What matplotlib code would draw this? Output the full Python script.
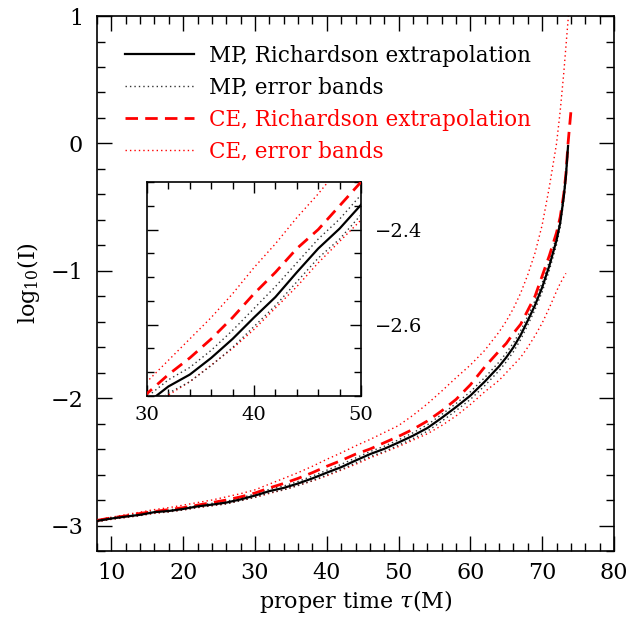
import matplotlib
matplotlib.use("Agg")
import matplotlib.pyplot as plt
from matplotlib.ticker import MultipleLocator

plt.rcParams['font.family'] = ['DejaVu Serif']
plt.rcParams['mathtext.fontset'] = 'dejavuserif'

# proper time grid shared by the MP curves
tau = [8, 10, 12, 14, 16, 18, 20, 22, 24, 26, 28, 30, 32, 34, 36, 38, 40, 42, 44,
       46, 48, 50, 52, 54, 56, 58, 60, 62, 64, 65, 66, 67, 68, 69, 70, 71, 72,
       72.5, 73, 73.3, 73.6]

mp_rich = [-2.964, -2.945, -2.930, -2.916, -2.895, -2.886, -2.870, -2.850, -2.836,
           -2.820, -2.795, -2.765, -2.730, -2.705, -2.670, -2.630, -2.585, -2.542,
           -2.490, -2.440, -2.398, -2.348, -2.295, -2.235, -2.155, -2.070, -1.980,
           -1.870, -1.750, -1.680, -1.600, -1.505, -1.390, -1.270, -1.130, -0.960,
           -0.760, -0.627, -0.420, -0.260, -0.020]
mp_upper = [-2.958, -2.940, -2.924, -2.908, -2.889, -2.878, -2.862, -2.842, -2.826,
            -2.810, -2.784, -2.752, -2.716, -2.690, -2.654, -2.612, -2.566, -2.520,
            -2.470, -2.420, -2.378, -2.327, -2.272, -2.210, -2.128, -2.042, -1.950,
            -1.838, -1.716, -1.645, -1.565, -1.470, -1.355, -1.235, -1.095, -0.925,
            -0.725, -0.595, -0.390, -0.230, 0.010]
mp_lower = [-2.970, -2.950, -2.936, -2.922, -2.901, -2.892, -2.878, -2.858, -2.844,
            -2.830, -2.806, -2.778, -2.744, -2.720, -2.686, -2.648, -2.604, -2.560,
            -2.510, -2.460, -2.420, -2.369, -2.318, -2.260, -2.182, -2.098, -2.010,
            -1.902, -1.784, -1.715, -1.635, -1.540, -1.425, -1.305, -1.165, -0.995,
            -0.795, -0.660, -0.450, -0.290, -0.050]

tau_ce = tau + [74.0]
ce_rich = [-2.960, -2.940, -2.925, -2.905, -2.890, -2.875, -2.860, -2.840, -2.820,
           -2.800, -2.775, -2.745, -2.705, -2.670, -2.630, -2.585, -2.535, -2.490,
           -2.440, -2.400, -2.350, -2.300, -2.245, -2.180, -2.100, -2.010, -1.895,
           -1.755, -1.630, -1.570, -1.490, -1.420, -1.310, -1.200, -1.040, -0.880,
           -0.700, -0.580, -0.400, -0.240, 0.000, 0.250]

tau_ce_up = [8, 10, 12, 14, 16, 18, 20, 22, 24, 26, 28, 30, 32, 34, 36, 38, 40, 42,
             44, 46, 48, 50, 52, 54, 56, 58, 60, 62, 64, 65, 66, 67, 68, 69, 70, 71,
             72, 72.5, 73, 73.65]
ce_upper = [-2.955, -2.935, -2.915, -2.895, -2.875, -2.860, -2.840, -2.820, -2.800,
            -2.775, -2.750, -2.720, -2.675, -2.630, -2.585, -2.535, -2.480, -2.430,
            -2.375, -2.325, -2.270, -2.215, -2.135, -2.045, -1.945, -1.840, -1.740,
            -1.625, -1.480, -1.395, -1.295, -1.175, -1.030, -0.860, -0.640, -0.340,
            0.000, 0.250, 0.550, 1.000]

tau_ce_lo = [8, 10, 12, 14, 16, 18, 20, 22, 24, 26, 28, 30, 32, 34, 36, 38, 40, 42,
             44, 46, 48, 50, 52, 54, 56, 58, 60, 62, 64, 65, 66, 67, 68, 69, 70, 71,
             72, 72.5, 73, 73.3]
ce_lower = [-2.970, -2.952, -2.937, -2.922, -2.905, -2.893, -2.878, -2.860, -2.845,
            -2.830, -2.805, -2.780, -2.748, -2.720, -2.685, -2.650, -2.610, -2.565,
            -2.520, -2.470, -2.425, -2.380, -2.330, -2.280, -2.215, -2.140, -2.050,
            -1.950, -1.860, -1.800, -1.740, -1.680, -1.600, -1.510, -1.410, -1.290,
            -1.160, -1.100, -1.050, -1.020]

labels = ['MP, Richardson extrapolation', 'MP, error bands',
          'CE, Richardson extrapolation', 'CE, error bands']

DOT = (0, (1, 2.2))
DASH = (0, (4.5, 2.6))


def draw_curves(ax):
    h1, = ax.plot(tau, mp_rich, color='black', lw=1.6, zorder=4)
    h2, = ax.plot(tau, mp_upper, color='#333333', lw=1.0, ls=DOT, zorder=3)
    ax.plot(tau, mp_lower, color='#333333', lw=1.0, ls=DOT, zorder=3)
    h3, = ax.plot(tau_ce, ce_rich, color='red', lw=2.0, ls=DASH, zorder=3)
    h4, = ax.plot(tau_ce_up, ce_upper, color='red', lw=1.0, ls=DOT, zorder=2)
    ax.plot(tau_ce_lo, ce_lower, color='red', lw=1.0, ls=DOT, zorder=2)
    return [h1, h2, h3, h4]


fig = plt.figure(figsize=(6.3, 6.17), dpi=100)
ax = fig.add_axes([0.154, 0.107, 0.8206, 0.867])
handles = draw_curves(ax)

ax.set_xlim(8, 80)
ax.set_ylim(-3.2, 1)
ax.xaxis.set_major_locator(MultipleLocator(10))
ax.xaxis.set_minor_locator(MultipleLocator(2))
ax.yaxis.set_major_locator(MultipleLocator(1))
ax.yaxis.set_minor_locator(MultipleLocator(0.2))
ax.tick_params(which='both', direction='in', top=True, right=True, width=1.0,
               labelsize=16)
ax.tick_params(which='major', length=11)
ax.tick_params(which='minor', length=5.5)
ax.tick_params(axis='x', pad=8)
ax.tick_params(axis='y', pad=10)
for s in ax.spines.values():
    s.set_linewidth(1.2)
ax.set_xlabel(r'proper time $\tau$(M)', fontsize=16, labelpad=3)
ax.set_ylabel(r'log$_{10}$(I)', fontsize=16)
ax.yaxis.set_label_coords(-0.107, 0.5)

leg = ax.legend(handles, labels, loc='upper left', bbox_to_anchor=(0.055, 0.946),
                frameon=False, fontsize=15.5, handlelength=3.2, handletextpad=0.7,
                labelspacing=0.46, borderpad=0, borderaxespad=0,
                labelcolor=['black', 'black', 'red', 'red'])

# inset zoom on 30 < tau < 50
axi = fig.add_axes([0.2333, 0.3582, 0.3397, 0.3468])
draw_curves(axi)
axi.set_xlim(30, 50)
axi.set_ylim(-2.75, -2.30)
axi.xaxis.set_major_locator(MultipleLocator(10))
axi.xaxis.set_minor_locator(MultipleLocator(2))
axi.yaxis.set_major_locator(MultipleLocator(0.2))
axi.yaxis.set_minor_locator(MultipleLocator(0.05))
axi.yaxis.tick_right()
axi.tick_params(which='both', direction='in', top=True, left=True, right=True,
                width=1.0, labelsize=14)
axi.tick_params(which='major', length=8)
axi.tick_params(which='minor', length=5)
axi.tick_params(axis='x', pad=7)
axi.tick_params(axis='y', pad=10, labelleft=False, labelright=True)
for s in axi.spines.values():
    s.set_linewidth(1.2)

fig.savefig('out.png', dpi=100)
